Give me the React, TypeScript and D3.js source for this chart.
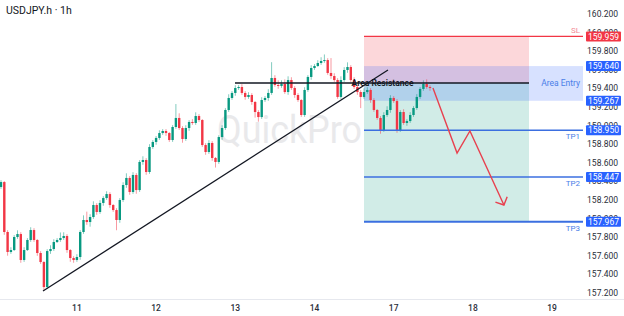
import React from 'react';
import * as d3 from 'd3';

const title = 'USDJPY.h · 1h';
const watermark = 'QuickPro';
const dayLabels = ['11', '12', '13', '14', '17', '18', '19'];
const dayStartIndex = [23, 47, 71, 95, 119, 143, 167];
const priceTicks = [157.2, 157.4, 157.6, 157.8, 158.0, 158.2, 158.4, 158.6, 158.8, 159.0, 159.2, 159.4, 159.6, 159.8, 160.0, 160.2];

const firstOpen = 158.34;
const closes = [
  158.393, 157.856, 157.641, 157.662, 157.802, 157.834, 157.555, 157.662, 157.770, 157.877,
  157.770, 157.630, 157.533, 157.264, 157.651, 157.673, 157.748, 157.770, 157.791, 157.813,
  157.662, 157.576, 157.555, 157.587, 157.856, 157.985, 157.963, 158.017, 158.146, 158.071,
  158.168, 158.221, 158.264, 158.146, 158.092, 157.985, 158.200, 158.361, 158.437, 158.286,
  158.469, 158.307, 158.609, 158.630, 158.501, 158.770, 158.824, 158.867, 158.920, 158.942,
  158.920, 158.845, 158.985, 159.082, 158.974, 158.856, 158.974, 159.039, 159.028, 159.103,
  159.060, 158.791, 158.716, 158.813, 158.652, 158.609, 158.877, 158.974, 159.168, 159.297,
  159.351, 159.404, 159.415, 159.351, 159.308, 159.329, 159.254, 159.146, 159.092, 159.275,
  159.297, 159.351, 159.512, 159.437, 159.426, 159.447, 159.361, 159.490, 159.404, 159.329,
  159.275, 159.114, 159.383, 159.523, 159.619, 159.641, 159.673, 159.695, 159.705, 159.566,
  159.533, 159.490, 159.308, 159.490, 159.598, 159.630, 159.490, 159.415, 159.361, 159.308,
  159.361, 159.383, 159.275, 159.168, 159.082, 158.953, 159.114, 159.168, 159.297, 159.264,
  158.953, 159.146, 159.028, 159.049, 159.114, 159.189, 159.308, 159.394, 159.447, 159.415, 159.404,
];
const upperWicks = [
  0.02, 0.01, 0.02, 0.03, 0.02, 0.04, 0.02, 0.03, 0.02, 0.03,
  0.02, 0.01, 0.02, 0.01, 0.02, 0.04, 0.03, 0.02, 0.06, 0.04,
  0.02, 0.01, 0.02, 0.03, 0.02, 0.05, 0.09, 0.03, 0.04, 0.02,
  0.03, 0.02, 0.03, 0.02, 0.01, 0.02, 0.02, 0.03, 0.05, 0.02,
  0.03, 0.02, 0.02, 0.04, 0.02, 0.03, 0.02, 0.02, 0.03, 0.02,
  0.02, 0.01, 0.02, 0.15, 0.05, 0.02, 0.03, 0.02, 0.03, 0.04,
  0.02, 0.01, 0.02, 0.03, 0.02, 0.01, 0.02, 0.03, 0.02, 0.04,
  0.02, 0.03, 0.02, 0.03, 0.02, 0.03, 0.02, 0.01, 0.02, 0.03,
  0.02, 0.04, 0.17, 0.03, 0.05, 0.04, 0.05, 0.04, 0.03, 0.02,
  0.02, 0.01, 0.03, 0.02, 0.03, 0.02, 0.03, 0.04, 0.06, 0.02,
  0.16, 0.03, 0.02, 0.04, 0.03, 0.05, 0.02, 0.03, 0.02, 0.02,
  0.04, 0.03, 0.02, 0.02, 0.01, 0.02, 0.03, 0.04, 0.03, 0.02,
  0.02, 0.02, 0.03, 0.02, 0.03, 0.02, 0.03, 0.02, 0.04, 0.05, 0.02,
];
const lowerWicks = [
  0.02, 0.03, 0.04, 0.02, 0.01, 0.02, 0.03, 0.02, 0.01, 0.02,
  0.02, 0.03, 0.02, 0.04, 0.02, 0.03, 0.02, 0.01, 0.02, 0.02,
  0.03, 0.04, 0.03, 0.02, 0.03, 0.02, 0.03, 0.05, 0.02, 0.03,
  0.02, 0.03, 0.02, 0.03, 0.02, 0.11, 0.03, 0.02, 0.03, 0.03,
  0.02, 0.04, 0.02, 0.03, 0.03, 0.02, 0.02, 0.03, 0.02, 0.02,
  0.03, 0.02, 0.02, 0.02, 0.02, 0.04, 0.02, 0.03, 0.02, 0.02,
  0.02, 0.02, 0.03, 0.02, 0.03, 0.06, 0.02, 0.03, 0.02, 0.02,
  0.02, 0.03, 0.02, 0.02, 0.03, 0.02, 0.03, 0.06, 0.05, 0.02,
  0.02, 0.03, 0.02, 0.02, 0.03, 0.02, 0.02, 0.03, 0.02, 0.03,
  0.02, 0.02, 0.02, 0.02, 0.03, 0.02, 0.01, 0.02, 0.02, 0.02,
  0.03, 0.02, 0.02, 0.02, 0.02, 0.03, 0.02, 0.02, 0.03, 0.12,
  0.02, 0.02, 0.03, 0.02, 0.02, 0.04, 0.02, 0.02, 0.03, 0.02,
  0.03, 0.02, 0.02, 0.03, 0.02, 0.02, 0.02, 0.02, 0.02, 0.02, 0.03,
];

const stopLoss = 159.959;
const entryPrice = 159.458;
const entryZone = [159.267, 159.64];
const targets = [158.95, 158.447, 157.967];
const targetNames = ['TP1', 'TP2', 'TP3'];
const positionRange = [110, 160];
const resistanceRange = [70.9, 160];
const trendline = [
  { i: 12.73, p: 157.221 },
  { i: 117.27, p: 159.598 },
];
const projection = [
  { i: 130.9, p: 159.404 },
  { i: 138.2, p: 158.705 },
  { i: 142.1, p: 158.942 },
  { i: 152.4, p: 158.146 },
];

const W = 624;
const H = 316;
const plotRight = 583;
const plotBottom = 299;
const FONT = 'Roboto, "Noto Sans", Arial, sans-serif';
const UP = '#089981';
const DOWN = '#f23645';
const BLUE = '#2962ff';

export default function App() {
  const x = d3.scaleLinear().domain([0, 176]).range([1, 1 + 176 * 3.3]);
  const y = d3.scaleLinear().domain([157.2, 160.2]).range([293, 14]);

  const candles = closes.map((c, i) => {
    const o = i === 0 ? firstOpen : closes[i - 1];
    const hi = Math.max(o, c) + upperWicks[i];
    const lo = Math.min(o, c) - lowerWicks[i];
    return { i, o, c, hi, lo, up: c >= o };
  });

  const line = d3
    .line<{ i: number; p: number }>()
    .x((d) => x(d.i))
    .y((d) => y(d.p));

  // arrow head from last projection segment
  const n = projection.length;
  const tip = [x(projection[n - 1].i), y(projection[n - 1].p)];
  const prev = [x(projection[n - 2].i), y(projection[n - 2].p)];
  const ang = Math.atan2(prev[1] - tip[1], prev[0] - tip[0]);
  const headLen = 9;
  const spread = (46 * Math.PI) / 180;
  const h1 = [tip[0] + headLen * Math.cos(ang + spread), tip[1] + headLen * Math.sin(ang + spread)];
  const h2 = [tip[0] + headLen * Math.cos(ang - spread), tip[1] + headLen * Math.sin(ang - spread)];

  const posX0 = x(positionRange[0]);
  const posX1 = x(positionRange[1]);
  const fmt = d3.format('.3f');

  const boxes = [
    { p: stopLoss, color: DOWN },
    { p: entryZone[1], color: BLUE },
    { p: entryZone[0], color: BLUE },
    ...targets.map((p) => ({ p, color: BLUE })),
  ];

  return (
    <svg
      width={W}
      height={H}
      style={{ position: 'absolute', left: 0, top: 0, background: '#ffffff', fontFamily: FONT }}
    >
      <rect x={0} y={0} width={W} height={H} fill="#ffffff" />
      {/* watermark */}
      <text x={217} y={143} fontSize={39} fill="#e9e9eb" textLength={145} lengthAdjust="spacingAndGlyphs">
        {watermark}
      </text>

      {/* position zones */}
      <rect x={posX0} y={y(stopLoss)} width={posX1 - posX0} height={y(entryPrice) - y(stopLoss)} fill="rgba(242,54,69,0.2)" />
      <rect x={posX0} y={y(entryPrice)} width={posX1 - posX0} height={y(targets[2]) - y(entryPrice)} fill="rgba(8,153,129,0.19)" />
      <rect x={posX0} y={y(entryZone[1])} width={plotRight - posX0} height={y(entryZone[0]) - y(entryZone[1])} fill="rgba(41,98,255,0.19)" />

      {/* candles */}
      <g>
        {candles.map((d) => {
          const cx = x(d.i);
          const col = d.up ? UP : DOWN;
          const top = y(Math.max(d.o, d.c));
          const bot = y(Math.min(d.o, d.c));
          return (
            <g key={d.i}>
              <line x1={cx} x2={cx} y1={y(d.hi)} y2={y(d.lo)} stroke={col} strokeOpacity={0.5} strokeWidth={1} />
              <rect x={cx - 1.2} y={top} width={2.4} height={Math.max(1, bot - top)} fill={col} />
            </g>
          );
        })}
      </g>

      {/* trend line */}
      <path d={line(trendline) || ''} stroke="#131722" strokeWidth={1.3} fill="none" />

      {/* resistance / entry line */}
      <line x1={x(resistanceRange[0])} x2={x(resistanceRange[1])} y1={y(entryPrice)} y2={y(entryPrice)} stroke="#131722" strokeWidth={1.3} />
      <text x={382.5} y={y(entryPrice) + 3} fontSize={8.5} fontWeight={600} fill="#131722" textAnchor="middle">
        Area Resistance
      </text>

      {/* SL line */}
      <line x1={posX0} x2={plotRight} y1={y(stopLoss)} y2={y(stopLoss)} stroke={DOWN} strokeWidth={1.2} />
      <text x={580} y={y(stopLoss) - 3.5} fontSize={8} fill="#f38a95" textAnchor="end">SL</text>

      {/* TP lines */}
      {targets.map((p, k) => (
        <g key={k}>
          <line x1={posX0} x2={plotRight} y1={y(p)} y2={y(p)} stroke="#3b6fe0" strokeWidth={k === 2 ? 2 : 1.4} />
          <text x={580} y={y(p) + 9} fontSize={8} fill="#4a7ee8" textAnchor="end">{targetNames[k]}</text>
        </g>
      ))}

      <text x={580} y={y(entryPrice) + 3} fontSize={8.5} fill="#4a7ee8" textAnchor="end">Area Entry</text>

      {/* projection arrow */}
      <path d={line(projection) || ''} stroke="#e8414f" strokeWidth={1.4} fill="none" strokeLinejoin="miter" />
      <path d={`M${h1[0]},${h1[1]}L${tip[0]},${tip[1]}L${h2[0]},${h2[1]}`} stroke="#e8414f" strokeWidth={1.4} fill="none" />

      {/* axes */}
      <line x1={0} x2={W} y1={plotBottom + 0.5} y2={plotBottom + 0.5} stroke="#e6e8ee" strokeWidth={1} />
      {priceTicks.map((p) => (
        <text key={p} x={618} y={y(p) + 3} fontSize={8.5} fill="#2a2e39" textAnchor="end">
          {fmt(p)}
        </text>
      ))}
      {boxes.map((b, k) => (
        <g key={k}>
          <rect x={586} y={y(b.p) - 5} width={35} height={10} fill={b.color} rx={1} />
          <text x={603.5} y={y(b.p) + 3.2} fontSize={8.5} fill="#ffffff" textAnchor="middle">
            {fmt(b.p)}
          </text>
        </g>
      ))}
      {dayLabels.map((lab, k) => (
        <text key={lab} x={x(dayStartIndex[k])} y={311} fontSize={8.5} fontWeight={500} fill="#2a2e39" textAnchor="middle">
          {lab}
        </text>
      ))}

      {/* title */}
      <text x={6} y={14} fontSize={10.5} fill="#131722">{title}</text>
    </svg>
  );
}
